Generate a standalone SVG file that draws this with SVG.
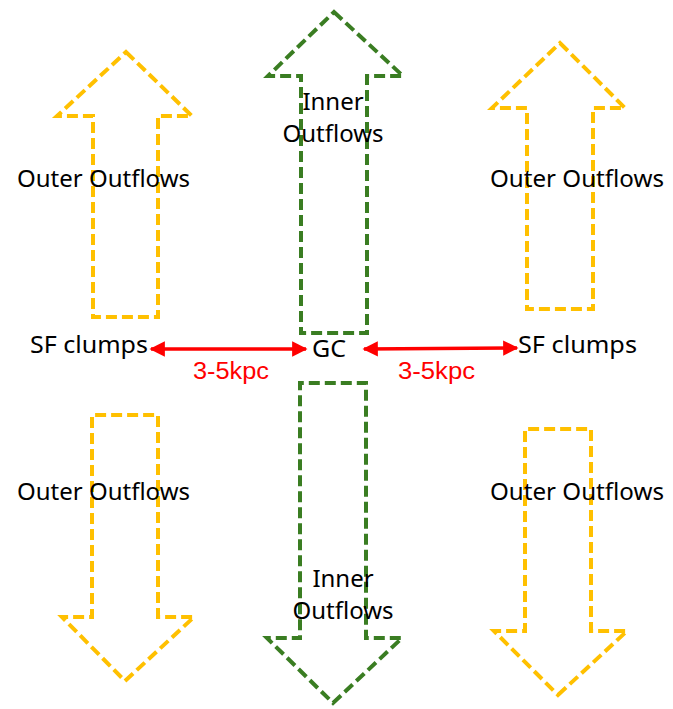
<svg xmlns="http://www.w3.org/2000/svg" width="673" height="709" viewBox="0 0 673 709">
<style>
.outer{fill:none;stroke:#FFC000;stroke-width:4;stroke-dasharray:11 5;stroke-linejoin:miter}
.inner{fill:none;stroke:#3A7D22;stroke-width:4;stroke-dasharray:11 5;stroke-linejoin:miter}
.lbl{font-family:"Noto Sans","Open Sans",sans-serif;font-size:24px;fill:#000}
.dist{font-family:"Liberation Sans",Arial,sans-serif;font-size:23px;fill:#FF0000}
.red{stroke:#FF0000;stroke-width:3.5;fill:none}
</style>
<defs>
<marker id="ah" viewBox="0 0 10 10" refX="9" refY="5" markerWidth="5" markerHeight="4.4" markerUnits="strokeWidth" orient="auto-start-reverse">
<path d="M0,0 L10,5 L0,10 Z" fill="#FF0000"/>
</marker>
</defs>
<rect width="673" height="709" fill="#fff"/>
<g id="outer-top-left"><path class="outer" d="M126,52 L192,116 L158,116 L158,317 L93,317 L93,116 L57,116 Z"/>
<text class="lbl" x="17" y="187" textLength="173" lengthAdjust="spacingAndGlyphs">Outer Outflows</text></g>
<g id="inner-top"><path class="inner" d="M334,12 L403,76 L367,76 L367,333 L301,333 L301,76 L268,76 Z"/>
<text class="lbl" x="333" y="110" text-anchor="middle">Inner</text>
<text class="lbl" x="333" y="142" text-anchor="middle">Outflows</text></g>
<g id="outer-top-right"><path class="outer" d="M560,43 L625,108 L593,108 L593,309 L527,309 L527,108 L492,108 Z"/>
<text class="lbl" x="490" y="187" textLength="174" lengthAdjust="spacingAndGlyphs">Outer Outflows</text></g>
<g id="outer-bottom-left"><path class="outer" d="M125,681 L194,617 L158,617 L158,415 L92,415 L92,617 L62,617 Z"/>
<text class="lbl" x="17" y="500" textLength="173" lengthAdjust="spacingAndGlyphs">Outer Outflows</text></g>
<g id="inner-bottom"><path class="inner" d="M333,703 L402,638 L366,638 L366,383 L300,383 L300,638 L267,638 Z"/>
<text class="lbl" x="343" y="587" text-anchor="middle">Inner</text>
<text class="lbl" x="343" y="619" text-anchor="middle">Outflows</text></g>
<g id="outer-bottom-right"><path class="outer" d="M558,695 L627,631 L591,631 L591,429 L525,429 L525,631 L494,631 Z"/>
<text class="lbl" x="490" y="500" textLength="174" lengthAdjust="spacingAndGlyphs">Outer Outflows</text></g>
<g id="sf-left"><text class="lbl" x="30" y="353" textLength="118" lengthAdjust="spacingAndGlyphs">SF clumps</text></g>
<g id="gc"><text class="lbl" x="312" y="357" textLength="34" lengthAdjust="spacingAndGlyphs">GC</text></g>
<g id="sf-right"><text class="lbl" x="518" y="353" textLength="119" lengthAdjust="spacingAndGlyphs">SF clumps</text></g>
<g id="connectors">
<line class="red" x1="151" y1="349" x2="306" y2="349" marker-start="url(#ah)" marker-end="url(#ah)"/>
<line class="red" x1="364" y1="349" x2="517" y2="348" marker-start="url(#ah)" marker-end="url(#ah)"/>
<text class="dist" x="193" y="379" textLength="76" lengthAdjust="spacingAndGlyphs">3-5kpc</text>
<text class="dist" x="398" y="379" textLength="77" lengthAdjust="spacingAndGlyphs">3-5kpc</text>
</g>
</svg>
